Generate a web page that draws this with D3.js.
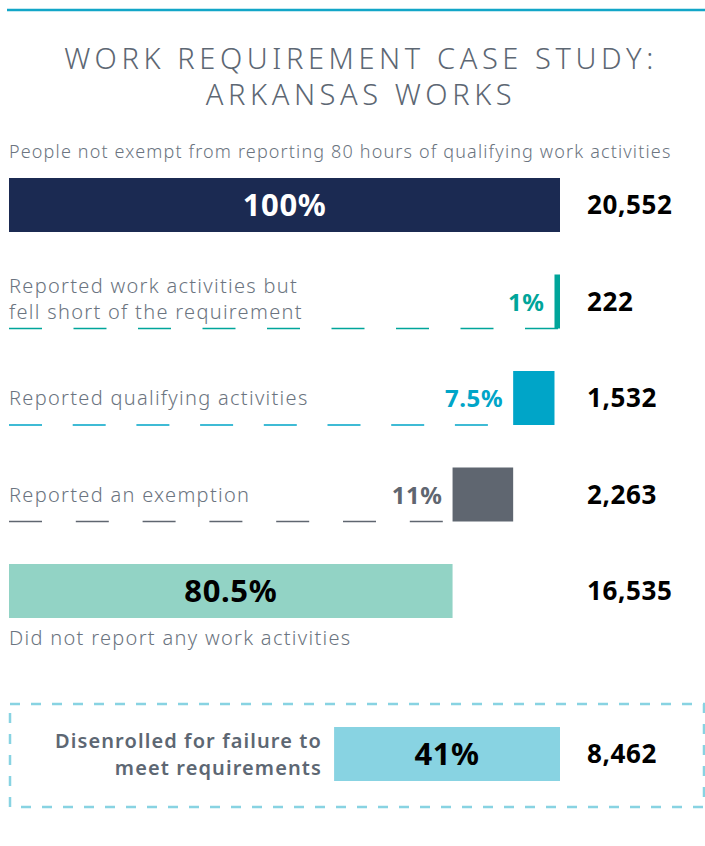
<!DOCTYPE html>
<html>
<head>
<meta charset="utf-8">
<script src="https://cdn.jsdelivr.net/npm/d3@7"></script>
<style>
  body { margin: 0; background: #fff; }
  svg { display: block; font-family: 'Noto Sans', sans-serif; }
</style>
</head>
<body>
<div id="chart"></div>
<script>
// Arkansas Works case study — waterfall-style split of the 100% bar

const titleLines = ['WORK REQUIREMENT CASE STUDY:', 'ARKANSAS WORKS'];
const totalLabel = 'People not exempt from reporting 80 hours of qualifying work activities';
const totalCount = 20552;

// breakdown rows, top to bottom
const rowLabels = [
  ['Reported work activities but', 'fell short of the requirement'],
  ['Reported qualifying activities'],
  ['Reported an exemption'],
  ['Did not report any work activities']
];
const rowPcts = [1, 7.5, 11, 80.5];
const rowCounts = [222, 1532, 2263, 16535];

const disenrolledLabel = ['Disenrolled for failure to', 'meet requirements'];
const disenrolledPct = 41;
const disenrolledCount = 8462;

const W = 705, H = 846;
const BAR_H = 54;
const NAVY = '#1b2a52';
const rowColors = ['#00a59a', '#00a5c8', '#5f6670', '#92d3c5'];
const textColors = ['#00a59a', '#00a5c8', '#5f6670', '#000'];
const dashGaps = [31.5, 30.7, 33.8];
const GREY_TXT = '#6b7480';

const fmt = d3.format(',');

const svg = d3.select('#chart').append('svg')
  .attr('width', W)
  .attr('height', H);

// light body text, spaced out a bit to get closer to the original's wide face
function light(sel, size) {
  return sel.style('font-size', size + 'px')
    .style('font-weight', 300)
    .style('letter-spacing', '1.3px')
    .style('fill', GREY_TXT);
}
function bold(sel, size) {
  return sel.style('font-size', size + 'px')
    .style('font-weight', 700)
    .style('letter-spacing', '0.6px');
}

// top rule
svg.append('line')
  .attr('x1', 7).attr('x2', W).attr('y1', 10).attr('y2', 10)
  .attr('stroke', '#12a6c8').attr('stroke-width', 2.5);

// title
svg.selectAll('text.title').data(titleLines).join('text')
  .attr('class', 'title')
  .attr('x', 361)
  .attr('y', (d, i) => 69 + i * 36)
  .attr('text-anchor', 'middle')
  .style('font-size', '29px')
  .style('font-weight', 300)
  .style('letter-spacing', '4.6px')
  .style('fill', '#5d6773')
  .text(d => d);

svg.append('text')
  .attr('x', 9).attr('y', 158)
  .call(light, 18)
  .style('letter-spacing', '1.15px')
  .text(totalLabel);

const x = d3.scaleLinear().domain([0, 100]).range([9, 560]);
const y = d3.scalePoint().domain(d3.range(5)).range([178, 564]);

// total bar
svg.append('rect')
  .attr('x', x(0)).attr('y', y(0))
  .attr('width', x(100) - x(0)).attr('height', BAR_H)
  .attr('fill', NAVY);

svg.append('text')
  .attr('x', (x(0) + x(100)) / 2).attr('y', y(0) + BAR_H / 2 + 11)
  .attr('text-anchor', 'middle')
  .call(bold, 31)
  .style('fill', '#fff')
  .text('100%');

svg.append('text')
  .attr('x', 587).attr('y', y(0) + BAR_H / 2 + 9)
  .call(bold, 26)
  .text(fmt(totalCount));

// cumulative positions: first row sits at the right end, last row starts at 0
const ends = [];
let acc = 100;
rowPcts.forEach(p => { ends.push([acc - p, acc]); acc -= p; });

rowPcts.forEach((p, i) => {
  const top = y(i + 1);
  const [s, e] = ends[i];
  const g = svg.append('g');
  const last = i === rowPcts.length - 1;

  g.append('rect')
    .attr('x', x(s)).attr('y', top)
    .attr('width', x(e) - x(s)).attr('height', BAR_H)
    .attr('fill', rowColors[i]);

  if (!last) {
    // dashed guide from the left edge to the bar
    g.append('line')
      .attr('x1', 9).attr('x2', i === 0 ? x(e) : x(s) - 4)
      .attr('y1', top + BAR_H).attr('y2', top + BAR_H)
      .attr('stroke', rowColors[i]).attr('stroke-width', 1.5)
      .attr('stroke-dasharray', `33,${dashGaps[i]}`);

    const lines = rowLabels[i];
    const ly = lines.length > 1 ? top + 18 : top + BAR_H / 2 + 7;
    g.selectAll('text.lab').data(lines).join('text')
      .attr('x', 9)
      .attr('y', (d, j) => ly + j * 26)
      .call(light, 20)
      .text(d => d);

    g.append('text')
      .attr('x', x(s) - 10).attr('y', top + BAR_H / 2 + 9)
      .attr('text-anchor', 'end')
      .call(bold, 24)
      .style('fill', textColors[i])
      .text(p + '%');
  } else {
    g.append('text')
      .attr('x', (x(s) + x(e)) / 2).attr('y', top + BAR_H / 2 + 11)
      .attr('text-anchor', 'middle')
      .call(bold, 31)
      .style('fill', textColors[i])
      .text(p + '%');

    g.append('text')
      .attr('x', 9).attr('y', top + BAR_H + 27)
      .call(light, 20)
      .text(rowLabels[i][0]);
  }

  g.append('text')
    .attr('x', 587).attr('y', top + BAR_H / 2 + 9)
    .call(bold, 26)
    .text(fmt(rowCounts[i]));
});

// disenrolled box
const boxTop = 704, boxH = 103;
svg.append('rect')
  .attr('x', 10).attr('y', boxTop)
  .attr('width', 694).attr('height', boxH)
  .attr('fill', 'none')
  .attr('stroke', '#88d3e2').attr('stroke-width', 2.5)
  .attr('stroke-dasharray', '10,11');

const dTop = 727;
svg.append('rect')
  .attr('x', x(100 - disenrolledPct)).attr('y', dTop)
  .attr('width', x(100) - x(100 - disenrolledPct)).attr('height', BAR_H)
  .attr('fill', '#88d3e2');

svg.append('text')
  .attr('x', (x(100 - disenrolledPct) + x(100)) / 2).attr('y', dTop + BAR_H / 2 + 11)
  .attr('text-anchor', 'middle')
  .call(bold, 31)
  .text(disenrolledPct + '%');

svg.selectAll('text.dlab').data(disenrolledLabel).join('text')
  .attr('class', 'dlab')
  .attr('x', 322)
  .attr('y', (d, j) => 748 + j * 27)
  .attr('text-anchor', 'end')
  .style('font-size', '20px').style('font-weight', 600)
  .style('letter-spacing', '1.1px')
  .style('fill', '#5d6773')
  .text(d => d);

svg.append('text')
  .attr('x', 587).attr('y', dTop + BAR_H / 2 + 9)
  .call(bold, 26)
  .text(fmt(disenrolledCount));
</script>
</body>
</html>
